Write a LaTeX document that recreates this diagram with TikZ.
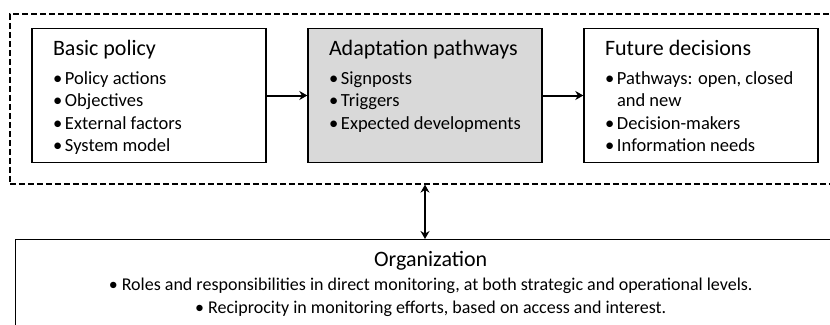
\documentclass[tikz,border=0pt]{standalone}
\usepackage{fontspec}
\setmainfont{Carlito}
\usetikzlibrary{shapes.geometric, arrows, arrows.meta, positioning}
\definecolor{shade}{RGB}{217,217,217}
\tikzstyle{stage} = [rectangle, minimum width=234pt, minimum height=134pt, inner sep=0pt, draw=black, line width=1.4pt, fill=white]
\tikzstyle{arrow} = [line width=2pt,->,>={Stealth[length=8pt,width=9pt]}]
\tikzset{
	frame/.style={rectangle, draw=black, line width=1.6pt, dash pattern=on 6pt off 3pt, inner sep=0pt},
	twoway/.style={line width=2pt,<->,>={Stealth[length=8pt,width=9pt]}}
}
% bullet line with hanging indent
\newcommand{\bitem}[1]{\par\hangindent=12pt\hangafter=1\noindent\makebox[12pt][l]{\textbullet}#1}
% title and bullets, top aligned in a box
\newcommand{\stagetext}[2]{\parbox[c][134pt][t]{192pt}{\fontsize{18.5}{22.5}\selectfont\raggedright
	\noindent\rule{0pt}{27pt}\mbox{\fontsize{22}{22.5}\selectfont #1}\par\vspace{6pt}#2}}

\begin{document}
\begin{tikzpicture}[x=1pt, y=-1pt, node distance=276pt]
		\useasboundingbox (0,0) rectangle (830,324);
		\clip (0,0) rectangle (830,324);
		
		% Dashed frame round the three stages
		\node (panel) [frame, minimum width=842pt, minimum height=170pt, anchor=north west] at (9,13) {};
		
		% Stages
		\node (basic) [stage] at (149,95.5) {\stagetext{Basic policy}{\bitem{Policy actions}\bitem{Objectives}\bitem{External factors}\bitem{System model}}};
		\node (adapt) [stage, fill=shade, right of=basic] {\stagetext{Adaptation pathways}{\bitem{Signposts}\bitem{Triggers}\bitem{Expected developments}}};
		\node (future) [stage, right of=adapt] {\stagetext{Future decisions}{\bitem{Pathways: open, closed and new}\bitem{Decision-makers}\bitem{Information needs}}};
		
		% Organization
		\node (org) [rectangle, draw=black, line width=1.4pt, inner sep=0pt, minimum width=830pt, minimum height=110pt, anchor=north west] at (15,239) {\parbox[c][110pt][t]{800pt}{\centering
			\rule{0pt}{27pt}{\fontsize{22}{24}\selectfont Organization}\par\vspace{1pt}
			{\fontsize{18}{23}\selectfont \textbullet\ Roles and responsibilities in direct monitoring, at both strategic and operational levels.\par
			\textbullet\ Reciprocity in monitoring efforts, based on access and interest.\par}}};
		
		% Arrows
		\draw [arrow] (basic) -- (adapt);
		\draw [arrow] (adapt) -- (future);
		\draw [twoway] (panel.south -| adapt) -- (org.north -| adapt);
		
	\end{tikzpicture}
\end{document}
